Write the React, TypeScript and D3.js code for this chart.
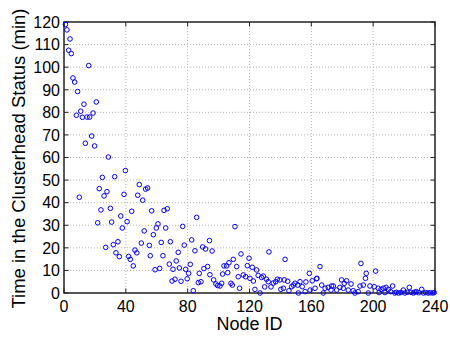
import React from "react";
import * as d3 from "d3";

const nodeIds: number[] = [
  0.9, 1.9, 3.0, 3.9, 4.7, 5.8, 6.9, 8.0, 8.8, 9.9, 10.8, 11.9, 12.9, 13.8, 14.9, 16.0, 16.6, 17.9, 18.8, 19.8,
  20.9, 21.8, 22.8, 23.9, 24.8, 25.9, 27.0, 27.8, 28.7, 30.0, 30.8, 31.9, 32.8, 33.6, 34.9, 35.8, 36.7, 37.7, 38.8, 39.7,
  40.8, 41.8, 42.9, 43.8, 44.8, 45.9, 47.1, 47.7, 48.7, 50.0, 50.9, 51.9, 52.8, 54.1, 55.2, 55.8, 56.7, 57.8, 58.9, 59.7,
  60.8, 61.9, 62.9, 64.0, 64.7, 65.8, 66.8, 68.1, 68.8, 69.9, 70.5, 71.8, 72.6, 73.9, 74.6, 75.7, 76.8, 77.8, 78.7, 79.7,
  80.6, 81.7, 82.6, 83.6, 84.7, 85.8, 86.9, 87.5, 88.6, 89.7, 90.5, 91.6, 92.9, 94.1, 94.4, 95.8, 96.8, 98.3, 99.4, 100.9,
  102.0, 102.6, 103.5, 105.2, 105.9, 106.7, 108.0, 108.9, 109.5, 110.6, 111.7, 112.7, 113.6, 114.5, 116.0, 117.5, 118.6, 119.7, 120.3, 121.8,
  122.5, 123.5, 124.6, 125.6, 126.8, 127.8, 128.9, 129.8, 131.0, 132.1, 132.6, 133.9, 135.4, 136.9, 138.0, 139.7, 140.3, 141.9, 142.4, 143.0,
  144.7, 145.5, 147.3, 148.4, 149.4, 151.2, 151.6, 152.7, 154.1, 156.0, 156.5, 158.7, 159.2, 160.6, 162.4, 163.4, 163.6, 165.6, 166.7, 167.7,
  168.9, 170.9, 172.7, 173.1, 174.2, 176.4, 178.5, 179.6, 180.7, 181.3, 182.8, 183.9, 185.7, 187.1, 188.2, 190.3, 191.5, 192.1, 193.6, 195.0,
  195.5, 196.8, 197.9, 200.7, 201.6, 203.3, 203.8, 205.1, 206.6, 207.6, 208.3, 209.8, 211.3, 212.6, 214.0, 215.0, 216.5, 218.0, 219.5, 220.5,
  222.0, 223.4, 224.5, 226.0, 227.0, 228.0, 229.5, 231.4, 232.5, 234.0, 235.5, 237.0, 238.5, 239.5,
];

const timesMin: number[] = [
  118.9, 116.5, 107.5, 112.5, 106, 95.2, 93.4, 78.7, 89.2, 42.4, 80.5, 77.8, 83.6, 66.3, 77.9, 100.7, 77.9, 69.5, 79.7, 65.1,
  84.6, 31.1, 46.2, 36.8, 51.2, 43, 20.2, 44.9, 60.2, 37.5, 31.4, 21.4, 51.5, 17.8, 22.7, 16.1, 34.1, 28.8, 43.7, 54.2,
  31.6, 16.2, 14.9, 36.2, 12, 19, 17.8, 43.3, 48, 22.1, 41.1, 27.5, 46, 46.5, 21.1, 16.5, 36.4, 25.8, 10.3, 28.8,
  30.6, 10.9, 22.4, 16.5, 36.6, 28.8, 37.3, 12.8, 22.7, 5.3, 10.5, 6.1, 14.2, 18, 11.1, 5.2, 29.5, 21.2, 10.5, 6.3,
  8.7, 12.7, 23.5, 1, 18.7, 33.5, 4.6, 8.7, 5, 20.4, 10.8, 19.5, 11.7, 23.2, 8.1, 18.6, 5.8, 4, 3.3, 3.1,
  4.3, 8.4, 12, 12, 9, 13.4, 4.3, 3.5, 14.9, 29.4, 11.7, 7.2, 2.1, 17.3, 8, 7.2, 12.1, 15.4, 6.5, 11.4,
  5.3, 1.6, 10.2, 7.8, 0, 6.9, 7.5, 2.7, 6.1, 5, 18.2, 2.7, 4.4, 5, 6.1, 5.8, 1.6, 2.1, 5.8, 14.9,
  5.2, 1, 2.8, 3.5, 4.3, 3.5, 0, 5, 2.8, 0.6, 4.9, 8.7, 1.3, 5.4, 2.1, 6.3, 6.5, 11.7, 3.5, 0,
  2.1, 2.5, 1.3, 3.1, 3.1, 1.3, 2.5, 5.8, 2.1, 4.3, 5.4, 1.3, 4, 1, 0, 0.6, 3.1, 13.1, 3.5, 6.5,
  8.7, 0, 3.1, 2.8, 9.7, 2.1, 0.2, 1.6, 2.1, 0.2, 2.5, 1.6, 0.6, 3.1, 0, 0.3, 0, 0.2, 1.3, 0,
  0.3, 2.5, 0.3, 0, 0.4, 0.6, 0.1, 1.6, 0, 0.2, 0, 0.1, 0, 0.2,
];

const xTicks: number[] = [0, 40, 80, 120, 160, 200, 240];
const yTicks: number[] = [0, 10, 20, 30, 40, 50, 60, 70, 80, 90, 100, 110, 120];
const xLabel = "Node ID";
const yLabel = "Time in the Clusterhead Status (min)";

export default function App() {
  const W = 450, H = 337;
  const left = 64, right = 435, top = 22, bottom = 293;
  const x = d3.scaleLinear().domain([0, 240]).range([left, right]);
  const y = d3.scaleLinear().domain([0, 120]).range([bottom, top]);
  const font = "Liberation Sans, Arial, Helvetica, sans-serif";
  const tickLen = 4.5;
  const pts = d3.zip(nodeIds, timesMin);

  return (
    <svg width={W} height={H} style={{ position: "absolute", left: 0, top: 0, background: "#fff" }}>
      <rect x={0} y={0} width={W} height={H} fill="#fff" />
      {xTicks.slice(1, -1).map((t) => (
        <line key={"gx" + t} x1={x(t)} x2={x(t)} y1={top} y2={bottom} stroke="#b4b4b4" strokeWidth={1} strokeDasharray="1,2" />
      ))}
      {yTicks.slice(1, -1).map((t) => (
        <line key={"gy" + t} x1={left} x2={right} y1={y(t)} y2={y(t)} stroke="#b4b4b4" strokeWidth={1} strokeDasharray="1,2" />
      ))}
      {xTicks.map((t) => (
        <g key={"tx" + t}>
          <line x1={x(t)} x2={x(t)} y1={bottom} y2={bottom - tickLen} stroke="#222" strokeWidth={1} />
          <line x1={x(t)} x2={x(t)} y1={top} y2={top + tickLen} stroke="#222" strokeWidth={1} />
          <text x={x(t)} y={312} textAnchor="middle" fontFamily={font} fontSize={16} fill="#000">{t}</text>
        </g>
      ))}
      {yTicks.map((t) => (
        <g key={"ty" + t}>
          <line x1={left} x2={left + tickLen} y1={y(t)} y2={y(t)} stroke="#222" strokeWidth={1} />
          <line x1={right} x2={right - tickLen} y1={y(t)} y2={y(t)} stroke="#222" strokeWidth={1} />
          <text x={60} y={y(t)} dy="0.36em" textAnchor="end" fontFamily={font} fontSize={16} fill="#000">{t}</text>
        </g>
      ))}
      <rect x={left} y={top} width={right - left} height={bottom - top} fill="none" stroke="#222" strokeWidth={1.5} />
      {pts.map(([nx, tv], i) => (
        <circle key={i} cx={x(nx)} cy={y(tv)} r={2.3} fill="none" stroke="#0000ff" strokeWidth={1} />
      ))}
      <text x={(left + right) / 2} y={330} textAnchor="middle" fontFamily={font} fontSize={18} fill="#000">{xLabel}</text>
      <text transform={`translate(25,${(top + bottom) / 2 + 1}) rotate(-90)`} textAnchor="middle" fontFamily={font} fontSize={18.5}
        textLength={300} lengthAdjust="spacingAndGlyphs" fill="#000">{yLabel}</text>
    </svg>
  );
}
